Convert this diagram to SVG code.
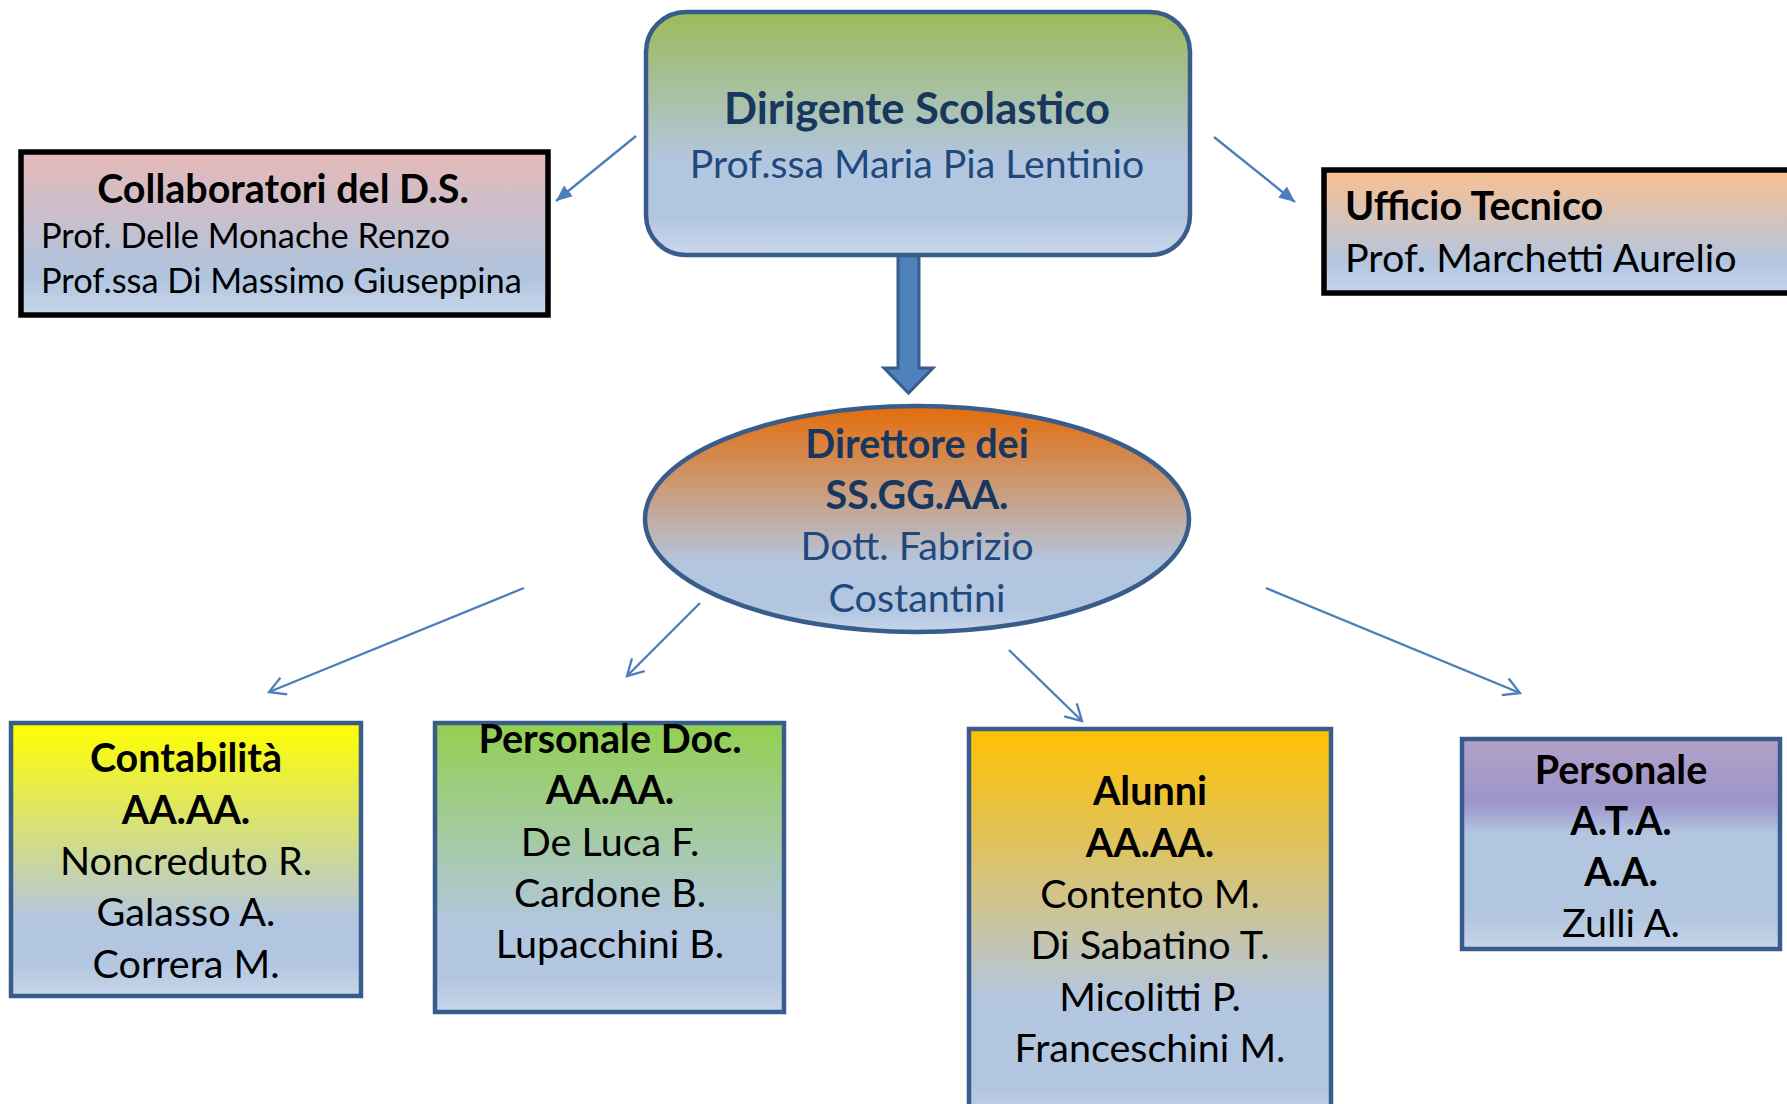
<svg xmlns="http://www.w3.org/2000/svg" width="1787" height="1104" viewBox="0 0 1787 1104">
<style>
text{font-family:Lato,"Open Sans","Liberation Sans",sans-serif;}
.b{font-weight:bold;}
.c{text-anchor:middle;}
.navyB{fill:#17375E;font-weight:bold;}
.navy{fill:#1F497D;}
.blk{fill:#000;}
.fs{font-size:39.5px;}
.node{stroke:#385D8A;stroke-width:4.5;}
.bnode{stroke:#000;stroke-width:5.5;}
.conn{stroke:#4A7EBB;stroke-width:2.3;fill:none;}
</style>
<defs>
<linearGradient id="gDir" x1="0" y1="0" x2="0" y2="1"><stop offset="0" stop-color="#9BBB59"/><stop offset="0.62" stop-color="#B3C6E0"/><stop offset="0.85" stop-color="#B3C6E0"/><stop offset="1" stop-color="#CAD8EC"/></linearGradient>
<linearGradient id="gCol" x1="0" y1="0" x2="0" y2="1"><stop offset="0" stop-color="#E6B9B8"/><stop offset="0.75" stop-color="#B0C4DE"/><stop offset="1" stop-color="#C6D5EA"/></linearGradient>
<linearGradient id="gUff" x1="0" y1="0" x2="0" y2="1"><stop offset="0" stop-color="#FAC090"/><stop offset="0.75" stop-color="#B3C6E0"/><stop offset="1" stop-color="#C6D5EA"/></linearGradient>
<linearGradient id="gDsg" x1="0" y1="0" x2="0" y2="1"><stop offset="0" stop-color="#E46C0A"/><stop offset="0.7" stop-color="#B3C6E0"/><stop offset="0.9" stop-color="#B3C6E0"/><stop offset="1" stop-color="#C6D5EA"/></linearGradient>
<linearGradient id="gCon" x1="0" y1="0" x2="0" y2="1"><stop offset="0" stop-color="#FFFF00"/><stop offset="0.72" stop-color="#B3C6E0"/><stop offset="0.88" stop-color="#B3C6E0"/><stop offset="1" stop-color="#C6D5EA"/></linearGradient>
<linearGradient id="gDoc" x1="0" y1="0" x2="0" y2="1"><stop offset="0" stop-color="#92D050"/><stop offset="0.7" stop-color="#B3C6E0"/><stop offset="0.88" stop-color="#B3C6E0"/><stop offset="1" stop-color="#C6D5EA"/></linearGradient>
<linearGradient id="gAlu" x1="0" y1="0" x2="0" y2="1"><stop offset="0" stop-color="#FFC000"/><stop offset="0.68" stop-color="#B3C6E0"/><stop offset="0.9" stop-color="#B3C6E0"/><stop offset="1" stop-color="#C6D5EA"/></linearGradient>
<linearGradient id="gAta" x1="0" y1="0" x2="0" y2="1"><stop offset="0" stop-color="#B3A2C7"/><stop offset="0.3" stop-color="#9D94CB"/><stop offset="0.45" stop-color="#B3C6E0"/><stop offset="0.85" stop-color="#B3C6E0"/><stop offset="1" stop-color="#C6D5EA"/></linearGradient>
<marker id="mFill" markerUnits="userSpaceOnUse" markerWidth="20" markerHeight="16" refX="16" refY="8" orient="auto"><path d="M0,1 L16,8 L0,15 Z" fill="#4A7EBB"/></marker>
<marker id="mOpen" markerUnits="userSpaceOnUse" markerWidth="22" markerHeight="22" refX="18" refY="11" orient="auto"><path d="M2,2 L18,11 L2,20" fill="none" stroke="#4A7EBB" stroke-width="2.3"/></marker>
</defs>

<g id="connectors">
<line class="conn" x1="636" y1="136" x2="556" y2="201" marker-end="url(#mFill)"/>
<line class="conn" x1="1214" y1="137" x2="1295" y2="202" marker-end="url(#mFill)"/>
<line class="conn" x1="524" y1="588" x2="269" y2="692" marker-end="url(#mOpen)"/>
<line class="conn" x1="700" y1="603" x2="627" y2="676" marker-end="url(#mOpen)"/>
<line class="conn" x1="1009" y1="650" x2="1082" y2="721" marker-end="url(#mOpen)"/>
<line class="conn" x1="1266" y1="588" x2="1520" y2="693" marker-end="url(#mOpen)"/>
<path id="thick-arrow" d="M898,255 L919,255 L919,368 L933,368 L908.5,393 L884,368 L898,368 Z" fill="#4F81BD" stroke="#385D8A" stroke-width="3"/>
</g>

<g id="dirigente">
<rect class="node" x="646" y="12" width="544" height="243" rx="40" fill="url(#gDir)"/>
<text class="c navyB" x="917" y="124" font-size="43.5">Dirigente Scolastico</text>
<text class="c navy" x="917" y="178" font-size="39.3">Prof.ssa Maria Pia Lentinio</text>
</g>

<g id="collaboratori">
<rect class="bnode" x="21" y="152" width="527" height="163" fill="url(#gCol)"/>
<text class="c b blk" x="283" y="203" font-size="39.5">Collaboratori del D.S.</text>
<text class="blk" x="41" y="248" font-size="34.4">Prof. Delle Monache Renzo</text>
<text class="blk" x="41" y="293" font-size="34.4">Prof.ssa Di Massimo Giuseppina</text>
</g>

<g id="ufficio-tecnico">
<rect class="bnode" x="1324" y="170" width="490" height="123" fill="url(#gUff)"/>
<text class="b blk fs" x="1345" y="220">Ufficio Tecnico</text>
<text class="blk fs" x="1345" y="272">Prof. Marchetti Aurelio</text>
</g>

<g id="dsga">
<ellipse class="node" cx="917" cy="519" rx="272" ry="113" fill="url(#gDsg)"/>
<text class="c navyB fs" x="917" y="458">Direttore dei</text>
<text class="c navyB fs" x="917" y="509">SS.GG.AA.</text>
<text class="c navy fs" x="917" y="560">Dott. Fabrizio</text>
<text class="c navy fs" x="917" y="612">Costantini</text>
</g>

<g id="contabilita">
<rect class="node" x="11" y="723" width="350" height="273" fill="url(#gCon)"/>
<text class="c b blk fs" x="186" y="772">Contabilità</text>
<text class="c b blk fs" x="186" y="824">AA.AA.</text>
<text class="c blk fs" x="186" y="875">Noncreduto R.</text>
<text class="c blk fs" x="186" y="926">Galasso A.</text>
<text class="c blk fs" x="186" y="978">Correra M.</text>
</g>

<g id="personale-doc">
<rect class="node" x="435" y="723" width="349" height="289" fill="url(#gDoc)"/>
<text class="c b blk fs" x="610" y="753">Personale Doc.</text>
<text class="c b blk fs" x="610" y="804">AA.AA.</text>
<text class="c blk fs" x="610" y="856">De Luca F.</text>
<text class="c blk fs" x="610" y="907">Cardone B.</text>
<text class="c blk fs" x="610" y="958">Lupacchini B.</text>
</g>

<g id="alunni">
<rect class="node" x="969" y="729" width="362" height="400" fill="url(#gAlu)"/>
<text class="c b blk fs" x="1150" y="805">Alunni</text>
<text class="c b blk fs" x="1150" y="857">AA.AA.</text>
<text class="c blk fs" x="1150" y="908">Contento M.</text>
<text class="c blk fs" x="1150" y="959">Di Sabatino T.</text>
<text class="c blk fs" x="1150" y="1011">Micolitti P.</text>
<text class="c blk fs" x="1150" y="1062">Franceschini M.</text>
</g>

<g id="personale-ata">
<rect class="node" x="1462" y="739" width="318" height="210" fill="url(#gAta)"/>
<text class="c b blk fs" x="1621" y="784">Personale</text>
<text class="c b blk fs" x="1621" y="835">A.T.A.</text>
<text class="c b blk fs" x="1621" y="886">A.A.</text>
<text class="c blk fs" x="1621" y="937">Zulli A.</text>
</g>
</svg>
